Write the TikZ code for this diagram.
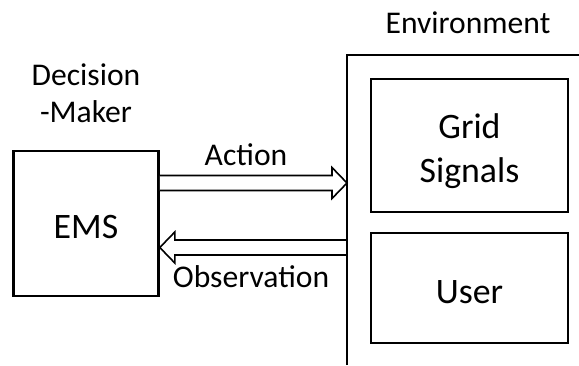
\documentclass[tikz,border=0pt]{standalone}
\usepackage{fontspec}
\setmainfont{Carlito}
\usetikzlibrary{positioning, calc}

\begin{document}
\begin{tikzpicture}[
    x=0.5pt, y=-0.5pt,
    txt/.style={font=\fontsize{15.8}{18.5}\selectfont, align=center, inner sep=0pt},
    block/.style={rectangle, draw, line width=1.3pt, align=center, inner sep=0pt, font=\fontsize{17.9}{22}\selectfont, text height=15pt, text depth=0pt},
    envframe/.style={line width=1.3pt},
    hollow/.style={draw, line width=0.8pt, fill=white, line join=miter}
]
\useasboundingbox (0,0) rectangle (579,365);

% decision maker
\node (ems) [block, minimum width=72.5pt, minimum height=72.5pt] at (86,223.5) {EMS};
\node (dm) [txt, above=13.2pt of ems] {Decision\\-Maker};

% environment
\coordinate (envcorner) at (347,55);
\node (env) [txt] at (468,22.5) {Environment};
\node (grid) [block, text height=37pt, minimum width=98.5pt, minimum height=66.5pt] at (469.5,145.5) {Grid\\Signals};
\node (user) [block, minimum width=98.5pt, minimum height=55pt, below=9.2pt of grid] {User};

% action arrow (EMS -> environment)
\coordinate (acttip) at (envcorner |- 0,183);
\draw [hollow] ($(ems.east |- acttip)+(0,-7.5)$) -- ($(acttip)+(-15,-7.5)$) -- ($(acttip)+(-15,-15.5)$)
    -- (acttip) -- ($(acttip)+(-15,15.5)$) -- ($(acttip)+(-15,7.5)$) -- ($(ems.east |- acttip)+(0,7.5)$);
\node (act) [txt] at (246,155) {Action};

% observation arrow (environment -> EMS)
\coordinate (obstip) at (ems.east |- 0,247.5);
\draw [hollow] ($(envcorner |- obstip)+(0,-7.5)$) -- ($(obstip)+(15,-7.5)$) -- ($(obstip)+(15,-15.5)$)
    -- (obstip) -- ($(obstip)+(15,15.5)$) -- ($(obstip)+(15,7.5)$) -- ($(envcorner |- obstip)+(0,7.5)$);
\node (obs) [txt] at (251,277) {Observation};

% environment frame, open to the right and below
\draw [envframe] (envcorner |- 0,365) -- (envcorner) -- (579,55);

\end{tikzpicture}
\end{document}
